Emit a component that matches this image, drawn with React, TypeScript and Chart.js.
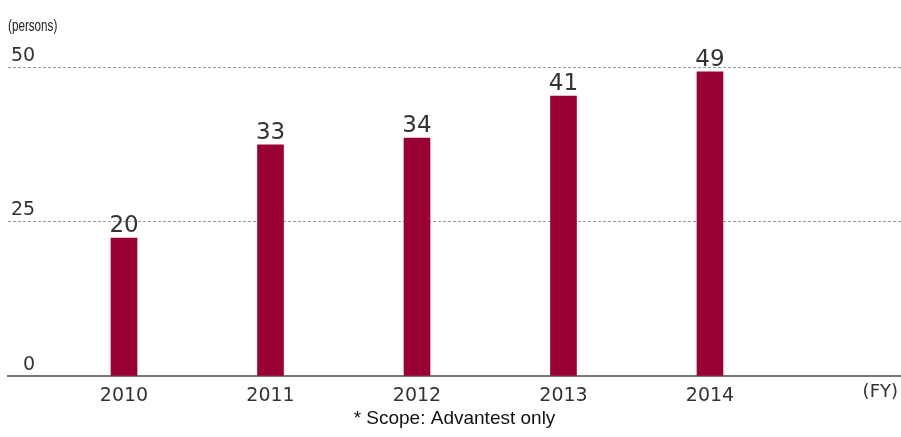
import { useEffect, useRef } from 'react';
import { Chart, registerables } from 'chart.js';

Chart.register(...registerables);

const years = ['2010', '2011', '2012', '2013', '2014'];
// bar heights as read against the y axis of the picture
const barValues = [22.3, 37.4, 38.5, 45.3, 49.2];
// numbers printed above the bars
const valueLabels = ['20', '33', '34', '41', '49'];
const yTicks = [0, 25, 50];
const unitLabel = '(persons)';
const xUnitLabel = '(FY)';
const footnote = '* Scope: Advantest only';

const WIDE = "'DejaVu Sans', 'Noto Sans', sans-serif";
const SANS = "'Liberation Sans', Arial, sans-serif";

const annotate = {
  id: 'annotate',
  afterDatasetsDraw(chart: any) {
    const ctx = chart.ctx as CanvasRenderingContext2D;
    const meta = chart.getDatasetMeta(0);
    ctx.save();
    ctx.fillStyle = '#333';
    ctx.font = `23px ${WIDE}`;
    ctx.textAlign = 'center';
    ctx.textBaseline = 'alphabetic';
    meta.data.forEach((bar: any, i: number) => {
      ctx.fillText(valueLabels[i], bar.x, bar.y - 6);
    });
    ctx.restore();

    ctx.save();
    ctx.font = `16px ${SANS}`;
    ctx.textAlign = 'left';
    ctx.textBaseline = 'middle';
    ctx.fillStyle = '#222';
    ctx.translate(8, 27);
    ctx.scale(0.73, 1);
    ctx.fillText(unitLabel, 0, 0);
    ctx.restore();

    ctx.save();
    ctx.font = `18px ${WIDE}`;
    ctx.textAlign = 'right';
    ctx.textBaseline = 'middle';
    ctx.fillStyle = '#333';
    ctx.fillText(xUnitLabel, chart.chartArea.right - 3, chart.scales.x.top + 16);
    ctx.restore();
  },
};

export default function App() {
  const ref = useRef<HTMLCanvasElement | null>(null);
  useEffect(() => {
    document.body.style.margin = '0';
    const canvas = ref.current;
    if (!canvas) return;
    const chart = new Chart(canvas, {
      type: 'bar',
      data: {
        datasets: [
          {
            data: barValues.map((v, i) => ({ x: i, y: v })),
            backgroundColor: '#990033',
            borderWidth: 0,
            barThickness: 26,
          },
        ],
      },
      plugins: [annotate],
      options: {
        animation: false,
        responsive: false,
        devicePixelRatio: 1,
        layout: { padding: { left: 8, right: 0, top: 67, bottom: 0 } },
        plugins: {
          legend: { display: false },
          tooltip: { enabled: false },
        },
        scales: {
          x: {
            type: 'linear',
            offset: false,
            min: -0.792,
            max: 5.304,
            grid: { display: false },
            border: { display: true, color: '#777', width: 2 },
            afterBuildTicks: (axis: any) => {
              axis.ticks = years.map((_, i) => ({ value: i }));
            },
            afterFit: (s: any) => {
              s.height = 61;
            },
            ticks: {
              callback: (v: any) => years[v] ?? '',
              color: '#333',
              font: { size: 19, family: WIDE },
              padding: 1,
              maxRotation: 0,
              autoSkip: false,
            },
            title: {
              display: true,
              text: footnote,
              color: '#111',
              font: { size: 19, family: SANS },
              padding: { top: 0, bottom: 7 },
            },
          },
          y: {
            min: 0,
            max: 50,
            afterBuildTicks: (axis: any) => {
              axis.ticks = yTicks.map((v) => ({ value: v }));
            },
            afterFit: (s: any) => {
              s.width = 0;
            },
            grid: {
              color: (c: any) => (c.tick && c.tick.value === 0 ? 'rgba(0,0,0,0)' : '#999'),
              lineWidth: 1,
              drawTicks: false,
            },
            border: { display: false, dash: [3, 2] },
            ticks: {
              mirror: true,
              crossAlign: 'far',
              padding: 3,
              labelOffset: -11,
              color: '#333',
              font: { size: 19, family: WIDE },
            },
          },
        },
      } as any,
    });
    return () => chart.destroy();
  }, []);
  return <canvas ref={ref} width={901} height={437} style={{ display: 'block' }} />;
}
